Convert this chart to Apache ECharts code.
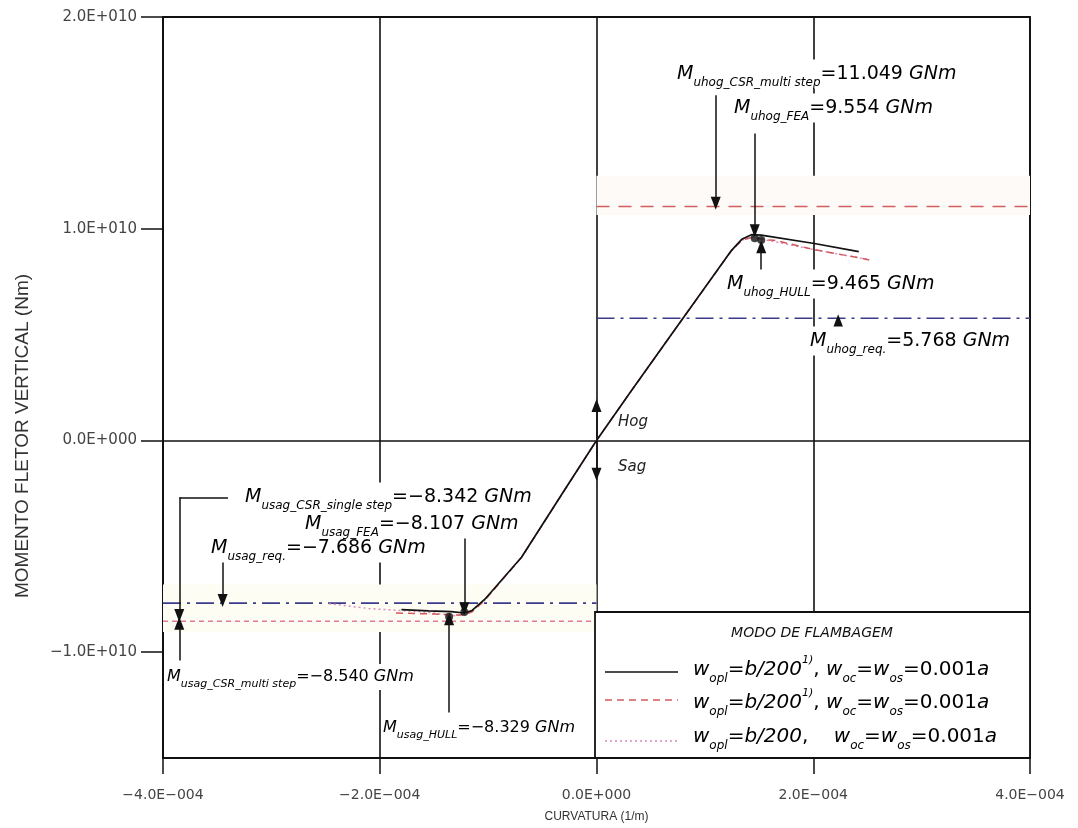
<!DOCTYPE html>
<html><head><meta charset="utf-8">
<script src="https://cdn.jsdelivr.net/npm/echarts@6/dist/echarts.min.js"></script>
<style>html,body{margin:0;padding:0;background:#fff}#c{width:1078px;height:828px}</style>
</head><body><div id="c"></div>
<script>
// ---------------- data ----------------
const xTickValues = [-4e-4, -2e-4, 0, 2e-4, 4e-4];
const yTickValues = [-1e10, 0, 1e10, 2e10];

// solid black curve: w_opl=b/200^1), w_oc=w_os=0.001a
const solidX = [-1.80e-4, -1.55e-4, -1.34e-4, -1.22e-4, -1.15e-4, -1.03e-4, -0.907e-4, -0.692e-4, -0.292e-4, 0, 0.323e-4, 0.630e-4, 0.938e-4, 1.246e-4, 1.34e-4, 1.43e-4, 1.52e-4, 2.01e-4, 2.42e-4];
const solidY = [-7.99e9, -8.05e9, -8.09e9, -8.15e9, -8.04e9, -7.50e9, -6.78e9, -5.52e9, -2.32e9, 0, 2.36e9, 4.57e9, 6.78e9, 8.98e9, 9.50e9, 9.72e9, 9.70e9, 9.30e9, 8.92e9];

// red dashed curve
const dashX = [-1.85e-4, -1.50e-4, -1.25e-4, -1.15e-4, -1.03e-4, -0.907e-4, -0.692e-4, -0.292e-4, 0, 0.323e-4, 0.630e-4, 0.938e-4, 1.246e-4, 1.34e-4, 1.44e-4, 1.55e-4, 1.64e-4, 2.00e-4, 2.45e-4, 2.54e-4];
const dashY = [-8.15e9, -8.20e9, -8.25e9, -8.10e9, -7.55e9, -6.80e9, -5.53e9, -2.33e9, 0, 2.35e9, 4.56e9, 6.77e9, 8.96e9, 9.46e9, 9.60e9, 9.48e9, 9.46e9, 9.02e9, 8.60e9, 8.50e9];

// pink dotted curve
const dotX = [-2.47e-4, -2.10e-4, -1.60e-4, -1.30e-4, -1.17e-4, -1.03e-4, -0.907e-4, -0.692e-4, -0.292e-4, 0, 0.323e-4, 0.630e-4, 0.938e-4, 1.246e-4, 1.34e-4, 1.44e-4, 1.55e-4, 2.00e-4, 2.50e-4];
const dotY = [-7.71e9, -7.94e9, -8.10e9, -8.28e9, -8.15e9, -7.55e9, -6.80e9, -5.53e9, -2.33e9, 0, 2.35e9, 4.56e9, 6.77e9, 8.96e9, 9.46e9, 9.60e9, 9.48e9, 9.02e9, 8.55e9];

// ultimate / required bending moments (Nm)
const uhogCSRmulti = 11.049e9;
const uhogFEA = 9.554e9;
const uhogHULL = 9.465e9;
const uhogReq = 5.768e9;
const usagCSRsingle = -8.342e9;
const usagFEA = -8.107e9;
const usagReq = -7.686e9;
const usagCSRmulti = -8.540e9;
const usagHULL = -8.329e9;

// curvature where the FEA / HULL ultimate points sit
const markerX = [1.46e-4, 1.52e-4, -1.22e-4, -1.36e-4];
const markerY = [uhogFEA, uhogHULL, usagFEA, usagHULL];

// ---------------- helpers ----------------
const zip = (a, b) => a.map((v, i) => [v, b[i]]);
function sci(v) {
  v = Number(v.toPrecision(10));
  if (v === 0) return '0.0E+000';
  let e = Math.floor(Math.log10(Math.abs(v)));
  let m = v / Math.pow(10, e);
  if (Math.abs(Number(m.toFixed(1))) >= 10) { e += 1; m = v / Math.pow(10, e); }
  const ms = (m < 0 ? '\u2212' : '') + Math.abs(m).toFixed(1);
  return ms + 'E' + (e < 0 ? '\u2212' : '+') + String(Math.abs(e)).padStart(3, '0');
}
const GNm = v => (v < 0 ? '\u2212' : '') + Math.abs(v / 1e9).toFixed(3);

const F = 'DejaVu Sans';
function richSet(S, subS) {
  return {
    M: { fontFamily: F, fontStyle: 'italic', fontSize: S, lineHeight: S + 10, verticalAlign: 'middle', color: '#111' },
    s: { fontFamily: F, fontStyle: 'italic', fontSize: subS, lineHeight: subS, verticalAlign: 'bottom', color: '#222' },
    v: { fontFamily: F, fontSize: S, lineHeight: S + 10, verticalAlign: 'middle', color: '#111' },
    sup: { fontFamily: F, fontStyle: 'italic', fontSize: 11, lineHeight: S + 10, verticalAlign: 'top', color: '#111' }
  };
}
function annot(x, y, sub, val, S, subS, z) {
  return {
    type: 'text', x: x, y: y, z: z,
    style: {
      text: '{M|M}{s|' + sub + '}{v|=' + GNm(val) + ' }{M|GNm}',
      rich: richSet(S, subS), align: 'left', verticalAlign: 'middle',
      backgroundColor: '#fff', padding: [0, 2]
    }
  };
}
function legendText(x, y, third) {
  const t = third
    ? '{M|w}{s|opl}{v|=}{M|b/200}{v|,    }{M|w}{s|oc}{v|=}{M|w}{s|os}{v|=0.001}{M|a}'
    : '{M|w}{s|opl}{v|=}{M|b/200}{sup|1)}{v|, }{M|w}{s|oc}{v|=}{M|w}{s|os}{v|=0.001}{M|a}';
  return { type: 'text', x: x, y: y, z: 101, style: { text: t, rich: richSet(20, 12), align: 'left', verticalAlign: 'middle' } };
}

// arrows in data coordinates [start, tip]
function arrow(p0, p1, head) {
  return [{ coord: p0, symbol: 'none' }, { coord: p1, symbol: head === false ? 'none' : 'triangle' }];
}
const arrows = [
  arrow([1.10e-4, 1.63e10], [1.10e-4, 1.12e10]),
  arrow([1.46e-4, 1.45e10], [1.46e-4, 0.99e10]),
  arrow([1.52e-4, 0.80e10], [1.52e-4, 0.915e10]),
  arrow([2.23e-4, 0.48e10], [2.23e-4, 0.565e10]),
  arrow([0, 0], [0, 1.65e9]),
  arrow([0, 0], [0, -1.6e9]),
  arrow([-3.40e-4, -2.70e9], [-3.85e-4, -2.70e9], false),
  arrow([-3.85e-4, -2.70e9], [-3.85e-4, -8.27e9]),
  arrow([-1.22e-4, -4.6e9], [-1.22e-4, -7.95e9]),
  arrow([-3.45e-4, -5.65e9], [-3.45e-4, -7.56e9]),
  arrow([-3.85e-4, -1.04e10], [-3.85e-4, -8.64e9]),
  arrow([-1.36e-4, -1.285e10], [-1.36e-4, -8.42e9])
];

const chart = echarts.init(document.getElementById('c'), null, { renderer: 'canvas' });
const L = 163, T = 17, R = 1030, B = 758;

const option = {
  animation: false,
  backgroundColor: '#fff',
  grid: { left: L, top: T, right: 1078 - R, bottom: 828 - B, show: true, borderColor: '#111', borderWidth: 1.8, backgroundColor: 'transparent' },
  xAxis: {
    type: 'value', min: -4e-4, max: 4e-4, interval: 2e-4,
    name: 'CURVATURA (1/m)', nameLocation: 'middle', nameGap: 53,
    nameTextStyle: { fontFamily: 'Liberation Sans', fontSize: 12, color: '#333' },
    axisLine: { show: true, onZero: false, lineStyle: { color: '#111', width: 1.8 } },
    axisTick: { show: true, inside: false, length: 16, lineStyle: { color: '#111', width: 1.5 } },
    axisLabel: { margin: 30, fontFamily: F, fontSize: 14, color: '#444', showMinLabel: true, showMaxLabel: true, formatter: v => sci(v) },
    splitLine: { show: true, lineStyle: { color: '#111', width: 1.6 } }
  },
  yAxis: {
    type: 'value', min: -1.5e10, max: 2e10, interval: 0.5e10,
    axisLine: { show: true, onZero: false, lineStyle: { color: '#111', width: 1.8 } },
    axisTick: { show: true, inside: false, length: 22, customValues: yTickValues, lineStyle: { color: '#111', width: 1.5 } },
    axisLabel: { margin: 26, fontFamily: F, fontSize: 15, color: '#444', customValues: yTickValues, formatter: v => sci(v) },
    splitLine: { show: true, lineStyle: { color: ['rgba(0,0,0,0)', '#111'], width: 1.6 } }
  },
  series: [
    {
      name: 'solid', type: 'line', data: zip(solidX, solidY), symbol: 'none', z: 6, silent: true,
      lineStyle: { color: '#111', width: 1.7 },
      markLine: {
        silent: true, symbolSize: [10, 13], animation: false,
        label: { show: false }, emphasis: { disabled: true },
        lineStyle: { color: '#111', width: 1.5, type: 'solid' },
        data: arrows
      }
    },
    { name: 'dash', type: 'line', data: zip(dashX, dashY), symbol: 'none', z: 5, silent: true,
      lineStyle: { color: '#d05a5a', width: 1.5, type: [7, 5] } },
    { name: 'dot', type: 'line', data: zip(dotX, dotY), symbol: 'none', z: 4, silent: true,
      lineStyle: { color: '#d98ac0', width: 1.5, type: [2, 3] } },
    { name: 'uhogCSR', type: 'line', data: [[0, uhogCSRmulti], [4e-4, uhogCSRmulti]], symbol: 'none', z: 3, silent: true,
      lineStyle: { color: '#d06060', width: 1.6, type: [13, 9] },
      markArea: { silent: true, itemStyle: { color: '#fefaf8' }, data: [[{ coord: [0, 1.065e10] }, { coord: [4e-4, 1.25e10] }]] } },
    { name: 'uhogReq', type: 'line', data: [[0, uhogReq], [4e-4, uhogReq]], symbol: 'none', z: 3, silent: true,
      lineStyle: { color: '#3b3b8c', width: 1.6, type: [18, 6, 3, 6] } },
    { name: 'usagReq', type: 'line', data: [[-4e-4, usagReq], [0, usagReq]], symbol: 'none', z: 3, silent: true,
      lineStyle: { color: '#3b3b8c', width: 1.6, type: [18, 6, 3, 6] },
      markArea: { silent: true, itemStyle: { color: '#fefdf3' }, data: [[{ coord: [-4e-4, -6.8e9] }, { coord: [0, -9.05e9] }]] } },
    { name: 'usagCSR', type: 'line', data: [[-4e-4, usagCSRmulti], [0, usagCSRmulti]], symbol: 'none', z: 3, silent: true,
      lineStyle: { color: '#e07a9a', width: 1.7, type: [5, 4] } },
    { name: 'markers', type: 'scatter', data: zip(markerX, markerY), symbol: 'circle', symbolSize: 8, z: 7, silent: true,
      itemStyle: { color: '#111' } }
  ],
  graphic: [
    { type: 'text', x: 23, y: 436, rotation: Math.PI / 2, z: 100,
      style: { text: 'MOMENTO FLETOR VERTICAL (Nm)', fontFamily: 'Liberation Sans', fontSize: 19, fill: '#333', align: 'center', verticalAlign: 'middle' } },
    annot(675, 74, 'uhog_CSR_multi step', uhogCSRmulti, 19, 12, 130),
    annot(732, 108, 'uhog_FEA', uhogFEA, 19, 12, 129),
    annot(725, 284, 'uhog_HULL', uhogHULL, 19, 12, 128),
    annot(808, 341, 'uhog_req.', uhogReq, 19, 12, 127),
    annot(243, 497, 'usag_CSR_single step', usagCSRsingle, 19, 12, 126),
    annot(303, 524, 'usag_FEA', usagFEA, 19, 12, 125),
    annot(209, 548, 'usag_req.', usagReq, 19, 12, 124),
    annot(165, 677, 'usag_CSR_multi step', usagCSRmulti, 16, 11, 123),
    annot(381, 728, 'usag_HULL', usagHULL, 16, 11, 122),
    { type: 'text', x: 618, y: 422, z: 100, style: { text: 'Hog', fontFamily: F, fontStyle: 'italic', fontSize: 15, fill: '#222', align: 'left', verticalAlign: 'middle' } },
    { type: 'text', x: 618, y: 467, z: 100, style: { text: 'Sag', fontFamily: F, fontStyle: 'italic', fontSize: 15, fill: '#222', align: 'left', verticalAlign: 'middle' } },
    // legend box
    { type: 'rect', z: 90, shape: { x: 595, y: 612, width: R - 595, height: B - 612 }, style: { fill: '#fff', stroke: '#111', lineWidth: 1.8 } },
    { type: 'text', x: 812, y: 633, z: 101, style: { text: 'MODO DE FLAMBAGEM', fontFamily: F, fontStyle: 'italic', fontSize: 14, fill: '#111', align: 'center', verticalAlign: 'middle' } },
    { type: 'line', z: 101, shape: { x1: 605, y1: 672, x2: 678, y2: 672 }, style: { stroke: '#111', lineWidth: 1.6 } },
    { type: 'line', z: 101, shape: { x1: 605, y1: 700, x2: 678, y2: 700 }, style: { stroke: '#d05a5a', lineWidth: 1.5, lineDash: [7, 5] } },
    { type: 'line', z: 101, shape: { x1: 605, y1: 741, x2: 678, y2: 741 }, style: { stroke: '#d98ac0', lineWidth: 1.5, lineDash: [2, 3] } },
    legendText(693, 670, false),
    legendText(693, 703, false),
    legendText(693, 737, true)
  ]
};
chart.setOption(option);
</script>
</body></html>
